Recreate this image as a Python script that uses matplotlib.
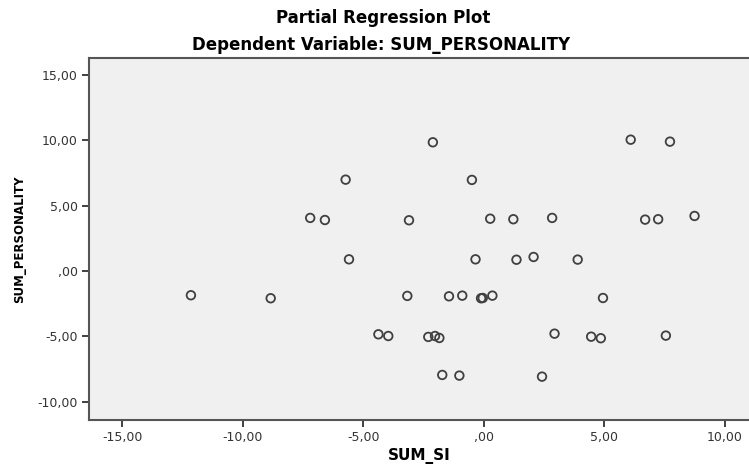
import matplotlib
matplotlib.use('Agg')
import matplotlib.pyplot as plt

# partial residuals
sum_si = [-12.16, -8.85, -7.21, -6.60, -5.74, -5.60, -4.38, -3.97, -3.11, -3.18,
          -2.31, -2.12, -2.03, -1.85, -1.73, -1.45, -1.02, -0.90, -0.50, -0.35,
          -0.12, -0.05, 0.26, 0.35, 1.22, 1.35, 2.06, 2.41, 2.83, 2.93,
          3.89, 4.45, 4.85, 4.94, 6.09, 6.69, 7.23, 7.55, 7.72, 8.74]
sum_personality = [-1.86, -2.09, 4.06, 3.90, 6.99, 0.89, -4.85, -4.98, 3.88, -1.91,
                   -5.05, 9.85, -4.98, -5.13, -7.96, -1.94, -8.01, -1.89, 6.97, 0.89,
                   -2.09, -2.07, 4.00, -1.89, 3.96, 0.86, 1.07, -8.09, 4.06, -4.80,
                   0.87, -5.03, -5.15, -2.07, 10.05, 3.93, 3.96, -4.95, 9.90, 4.21]

x_ticks = [-15, -10, -5, 0, 5, 10]
x_tick_labels = ['-15,00', '-10,00', '-5,00', ',00', '5,00', '10,00']
y_ticks = [-10, -5, 0, 5, 10, 15]
y_tick_labels = ['-10,00', '-5,00', ',00', '5,00', '10,00', '15,00']

plt.rcParams['font.family'] = ['DejaVu Sans']

fig = plt.figure(figsize=(7.49, 4.65), dpi=100)
ax = fig.add_axes([89/749, 45/465, 1 - 89/749, (420 - 58.3)/465])
ax.set_facecolor('#f0f0f0')

ax.scatter(sum_si, sum_personality, s=38, facecolors='none', edgecolors='#404040',
           linewidths=1.3, zorder=3)

ax.set_xlim(-16.39, 11.0)
ax.set_ylim(-11.41, 16.28)
ax.set_xticks(x_ticks)
ax.set_xticklabels(x_tick_labels)
ax.set_yticks(y_ticks)
ax.set_yticklabels(y_tick_labels)
ax.tick_params(direction='out', length=5, width=1.4, color='#404040',
               labelsize=9, labelcolor='#333333', pad=3)

for side in ['left', 'bottom', 'top']:
    ax.spines[side].set_color('#555555')
    ax.spines[side].set_linewidth(1.5)
ax.spines['right'].set_visible(False)

ax.set_xlabel('SUM_SI', fontsize=11, fontweight='bold', labelpad=3)
ax.set_ylabel('SUM_PERSONALITY', fontsize=8.5, fontweight='bold', labelpad=8)

fig.text(383/749, 1 - 18/465, 'Partial Regression Plot', ha='center', va='center',
         fontsize=12, fontweight='bold')
fig.text(381/749, 1 - 45/465, 'Dependent Variable: SUM_PERSONALITY', ha='center',
         va='center', fontsize=12, fontweight='bold')

fig.savefig('out.png', dpi=100)
